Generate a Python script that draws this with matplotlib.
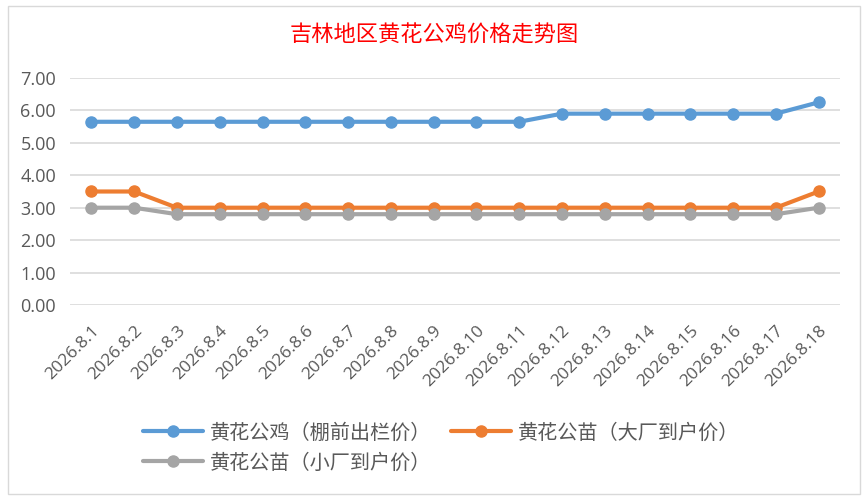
import matplotlib.pyplot as plt
from matplotlib.patches import Rectangle

plt.rcParams['font.family'] = ['Noto Sans CJK SC', 'DejaVu Sans']

dates = ['2026.8.' + str(d) for d in range(1, 19)]
rooster = [5.65, 5.65, 5.65, 5.65, 5.65, 5.65, 5.65, 5.65, 5.65, 5.65, 5.65,
           5.9, 5.9, 5.9, 5.9, 5.9, 5.9, 6.25]
chick_big = [3.5, 3.5, 3.0, 3.0, 3.0, 3.0, 3.0, 3.0, 3.0, 3.0, 3.0,
             3.0, 3.0, 3.0, 3.0, 3.0, 3.0, 3.5]
chick_small = [3.0, 3.0, 2.8, 2.8, 2.8, 2.8, 2.8, 2.8, 2.8, 2.8, 2.8,
               2.8, 2.8, 2.8, 2.8, 2.8, 2.8, 3.0]
names = ['黄花公鸡（棚前出栏价）', '黄花公苗（大厂到户价）', '黄花公苗（小厂到户价）']
colors = ['#5B9BD5', '#ED7D31', '#A5A5A5']
title = '吉林地区黄花公鸡价格走势图'

fig = plt.figure(figsize=(8.68, 5), dpi=100)
fig.patches.append(Rectangle((8 / 868, 6 / 500), 852 / 868, 488 / 500,
                             transform=fig.transFigure, fill=False,
                             edgecolor='#D9D9D9', linewidth=1))

ax = fig.add_axes([70 / 868, 1 - 305 / 500, 770 / 868, 227 / 500])
x = list(range(len(dates)))
lines = []
for ys, name, c in zip([rooster, chick_big, chick_small], names, colors):
    ln, = ax.plot(x, ys, color=c, linewidth=3, marker='o', markersize=8,
                  label=name, solid_capstyle='round')
    lines.append(ln)

ax.set_xlim(-0.5, len(dates) - 0.5)
ax.set_ylim(0, 7)
ax.set_yticks([0, 1, 2, 3, 4, 5, 6, 7])
ax.set_yticklabels(['%.2f' % v for v in range(8)])
ax.set_xticks(x)
ax.set_xticklabels(dates, rotation=45, ha='right', rotation_mode='anchor')
ax.tick_params(length=0, colors='#595959')
ax.tick_params(axis='x', labelsize=12.5, pad=13)
ax.tick_params(axis='y', labelsize=13, pad=10)
for lab in ax.get_xticklabels() + ax.get_yticklabels():
    lab.set_family('Open Sans')
ax.grid(axis='y', color='#D9D9D9', linewidth=1.2)
ax.set_axisbelow(True)
for s in ax.spines.values():
    s.set_visible(False)

fig.text(0.5, 1 - 35 / 500, title, color='#FF0000', fontsize=16,
         ha='center', va='center')

# row-wise order: blue, orange / gray
order = [0, 2, 1]
fig.legend([lines[i] for i in order], [names[i] for i in order],
           loc='center', bbox_to_anchor=(0.508, 1 - 448 / 500), ncol=2,
           frameon=False, fontsize=14.5, handlelength=3.0, labelcolor='#595959',
           columnspacing=1.0, handletextpad=0.3, labelspacing=0.45)

fig.savefig('out.png', dpi=100)
